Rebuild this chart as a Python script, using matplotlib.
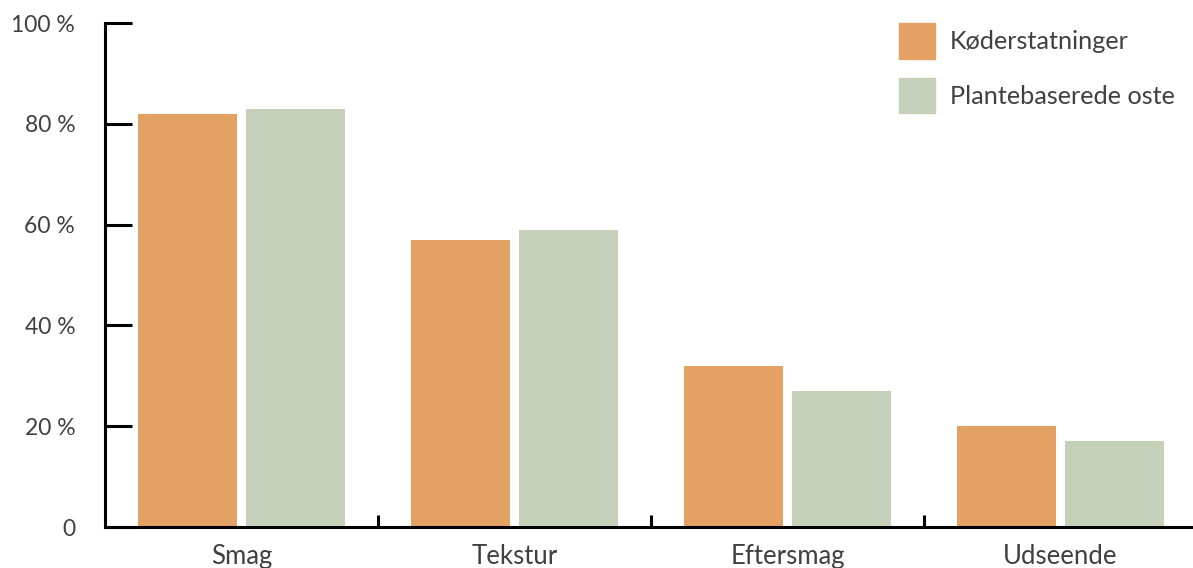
import numpy as np
import matplotlib as mpl
from matplotlib import pyplot as plt
from matplotlib.patches import Patch

mpl.rcParams["font.family"] = ["Lato", "DejaVu Sans"]

categories = ["Smag", "Tekstur", "Eftersmag", "Udseende"]
koed = [82, 57, 32, 20]
ost = [83, 59, 27, 17]
series_names = ["Køderstatninger", "Plantebaserede oste"]
y_ticks = [0, 20, 40, 60, 80, 100]
y_labels = ["0", "20 %", "40 %", "60 %", "80 %", "100 %"]

orange = "#E3A263"
green = "#C5D1B9"
text_col = "#404040"

W, H = 1193, 568
fig = plt.figure(figsize=(W / 100, H / 100), dpi=100)
ax = fig.add_axes([105 / W, 1 - 527 / H, 1092 / W, 504 / H])

x = np.arange(len(categories))
bw = 0.3626
off = 0.1996
ax.bar(x - off, koed, bw, color=orange, label=series_names[0])
ax.bar(x + off, ost, bw, color=green, label=series_names[1])

ax.set_xlim(-0.5, len(categories) - 0.5)
ax.set_ylim(0, 100)

for s in ["top", "right"]:
    ax.spines[s].set_visible(False)
for s in ["left", "bottom"]:
    ax.spines[s].set_linewidth(2.2)
    ax.spines[s].set_color("black")

ax.set_yticks(y_ticks)
ax.set_yticklabels(y_labels)
ax.tick_params(axis="y", direction="in", length=19.5, width=2.2,
               pad=21.5, labelsize=16.5, labelcolor=text_col)

ax.set_xticks(x)
ax.set_xticklabels(categories)
ax.tick_params(axis="x", which="major", length=0, pad=12,
               labelsize=18.5, labelcolor=text_col)
ax.set_xticks(x[:-1] + 0.5, minor=True)
ax.tick_params(axis="x", which="minor", direction="in", length=8.5, width=2.2)

handles = [Patch(color=orange), Patch(color=green)]
fig.legend(handles, series_names, loc="upper left",
           bbox_to_anchor=(899 / W, 1 - 23 / H), frameon=False,
           fontsize=18.2, labelcolor=text_col, borderpad=0, borderaxespad=0,
           handlelength=1.42, handleheight=1.8, handletextpad=0.6,
           labelspacing=0.75)

fig.savefig("out.png", dpi=100)
plt.close(fig)
